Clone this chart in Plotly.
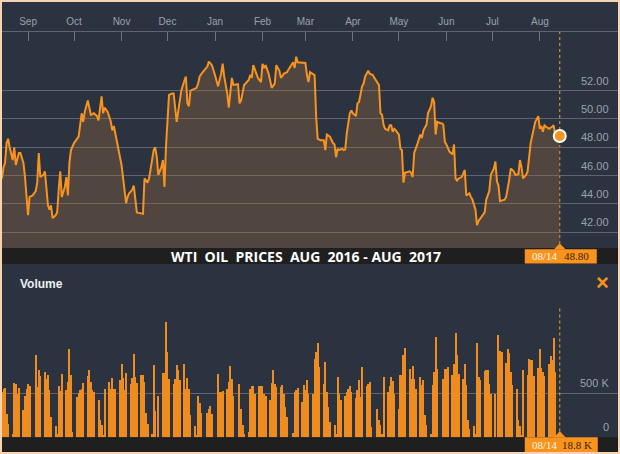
import plotly.graph_objects as go
import pandas as pd

# ---------------- data ----------------
BASE_DATE = "2016-09-01"   # price_day counts calendar days from this date
price_day = [
    -17, -16, -15, -14, -13, -12, -10, -9, -8, -6, -5, -4, -3, -2, 0, 1, 3, 5, 6, 7, 8, 10, 11, 13, 14, 15, 16,
    18, 19, 20, 21, 22, 24, 25, 26, 27, 28, 30, 32, 33, 35, 36, 37, 39, 41, 43, 45, 46, 48, 49, 50, 52, 54, 55,
    56, 58, 60, 61, 62, 64, 65, 66, 68, 69, 71, 73, 75, 76, 77, 78, 79, 80, 82, 83, 84, 85, 86,
    87, 88, 89, 90, 91, 92, 94, 95, 97, 99, 100, 102, 103, 104, 105, 106, 108, 110, 111, 112, 114, 117, 118,
    120, 122, 124, 126, 127, 128, 130, 131, 133, 134, 136, 137, 138, 139, 141, 143, 144, 145, 146, 147, 149,
    150, 152, 153, 154, 155, 157, 158, 159, 161, 162, 164, 165, 167, 169, 170, 172, 173, 174, 175, 176, 178,
    181, 182, 183, 184,
    186, 187, 188, 189, 191, 193, 194, 195, 197, 199, 200, 201, 202, 203, 205, 206, 207, 208, 210, 211, 212,
    214, 215, 216, 218, 219, 220, 222, 223, 225, 226, 228, 229, 230, 231, 232, 233, 235, 236, 237, 238, 239,
    240, 242, 243, 244, 245, 246, 249, 250, 251, 252, 253, 254, 256, 257, 258, 260, 261, 262, 263, 264, 265,
    266, 267, 269, 270, 271, 272, 273, 275, 276, 277, 278, 279, 280, 281,
    283, 285, 286, 288, 289, 290, 292, 293, 294, 296, 298, 299, 301, 302, 304, 305, 306, 307, 308, 311, 312,
    314, 315, 317, 318, 320, 321, 322, 323, 325, 326, 328, 329, 330, 331, 332, 333, 334, 335, 336, 337, 338,
    339, 340, 342, 343, 344, 345, 347,
]
price = [
    45.8, 46.6, 46.9, 48.3, 48.6, 48.0, 47.1, 48.0, 46.75, 47.6, 47.6, 47.2, 46.9, 45.9, 43.2, 44.5, 44.6, 44.9,
    45.5, 47.6, 45.9, 46.05, 46.3, 43.9, 43.6, 43.9, 43.0,
    43.2, 43.4, 45.0, 46.3, 44.5, 45.2, 45.9, 44.6, 46.9, 47.8, 48.3, 48.6, 48.75, 50.4, 49.8, 50.5, 51.3, 50.3,
    50.4, 50.2, 49.9, 51.6, 50.4, 50.8, 50.5, 49.8, 49.2,
    49.5, 48.5, 47.3, 46.75, 45.7, 44.05, 44.5, 44.75, 45.0, 45.3, 43.4, 43.35, 43.3, 45.8, 45.6, 45.5, 45.8,
    46.6, 47.8, 48.0, 47.3, 46.05, 46.3,
    46.6, 47.1, 45.2, 48.0, 50.2, 51.7, 51.8, 51.8, 49.8, 51.3, 52.0, 52.7, 53.0, 51.1, 50.9, 52.0, 52.1, 52.2,
    52.5, 53.0, 53.3, 53.7, 54.05,
    53.8, 53.1, 52.3, 53.2, 53.9, 53.0, 51.8, 50.8, 52.9, 52.4, 52.4, 52.45, 51.1, 51.3, 52.4, 52.6, 52.75, 53.1,
    52.9, 53.8, 53.1,
    52.9, 52.6, 53.9, 53.6, 53.8, 53.2, 52.75, 52.2, 52.5, 53.8, 53.4, 52.9, 53.2, 53.3, 53.5, 53.8, 54.0, 53.6,
    54.4, 54.0, 54.0,
    53.95, 53.1, 52.6, 53.3,
    53.2, 53.1, 50.2, 48.6, 48.5, 48.5, 47.8, 48.9, 48.75, 48.3, 48.2, 47.3, 47.9, 47.8, 47.9, 47.8, 47.85, 49.0,
    50.4, 50.6, 50.4,
    50.2, 51.1, 51.2, 52.3, 52.5, 53.0, 53.4, 53.2, 53.1, 52.9, 52.6, 52.4, 50.4, 50.3, 49.6, 49.3, 49.2, 49.55,
    49.55, 49.1, 49.3,
    49.2, 48.9, 47.9, 47.8, 45.5, 46.2, 46.3, 46.2, 45.9, 47.6, 47.85, 48.2, 48.9, 48.65, 49.2, 49.6, 50.4, 50.7,
    50.9, 51.5, 51.2,
    48.9, 49.8, 49.7, 49.7, 49.6, 48.4, 48.2, 47.7, 47.6, 47.5, 48.2, 45.8, 45.65, 45.8,
    45.9, 46.4, 44.6, 44.75, 44.5, 44.3, 43.6, 42.5, 42.8, 43.1, 43.4, 44.3, 44.9, 46.05, 46.5, 47.0, 45.6, 45.3,
    44.2, 44.3, 44.5,
    45.7, 46.5, 46.3, 46.05, 46.1, 47.1, 46.6, 45.8, 46.05, 46.3, 48.3, 48.9, 49.3, 49.8, 50.05, 50.2, 49.3,
    49.5, 49.1, 49.55, 49.45,
    49.4, 49.3, 49.45, 49.55, 48.9, 48.85, 48.8,
]

# daily volume (thousands of contracts), one entry per weekday from VOL_START to VOL_END; None = holiday
VOL_START, VOL_END = "2016-08-15", "2017-08-14"
volume_k = [
    520, 557, 570, 273, 160,
    45, 625, 606, 500, 570,
    310, 470, 557, 606, 584,
    None, 936, 576, 765, 697,
    746, 670, 709, 538, 235,
    133, 45, 591, 530, 720,
    538, 633, 1012, 709, 60,
    462, 508, 538, 557, 621,
    697, 773, 633, 538, 520,
    424, 197, 140, 26, 557,
    633, 557, 682, 557, 557,
    652, 841, 682, 538, 735,
    614, 682, 948, 690, 621,
    709, 709, 633, 280, 160,
    38, 830, 300, None, 470,
    735, 735, 1315, 974, 670,
    606, 670, 822, 765, 652,
    841, 557, 678, 557, 254,
    129, 25, 470, 394, 280,
    None, 280, 330, 356, 273,
    None, 728, 520, 520, 530,
    557, 633, 811, 670, 470,
    None, 606, 330, 140, 45,
    60, 557, 584, 584, 500,
    584, 584, 584, 500, 470,
    424, 621, 773, 606, 576,
    576, 595, 500, 349, 235,
    None, 53, 520, 538, 560,
    405, 595, 538, 652, 500,
    500, 900, 974, 1076, 803,
    606, 860, 520, 350, 178,
    140, 45, 690, 500, 432,
    470, 520, 557, 584, 520,
    455, 538, 660, 462, 803,
    584, 606, 633, 121, None,
    330, 205, 140, 45, 690,
    520, 584, 690, 644, 500,
    330, 709, 709, 944, 1023,
    784, 670, 811, 670, 550,
    690, 595, 660, 254, 140,
    45, 595, 746, 1152, 784,
    None, 670, 784, 784, 803,
    709, 834, 1190, 936, 728,
    670, 841, 595, 197, 100,
    129, 40, 1076, 690, 652,
    754, 765, 765, 614, 500,
    500, None, 1175, 982, 974,
    849, 1012, 963, 746, 600,
    557, 205, 129, 26, 765,
    709, 891, 887, 880, 700,
    796, 1012, 796, 746, 700,
    834, 929, 880, 1137, 746,
    18.8,
]

month_ticks = ["2016-09-01", "2016-10-01", "2016-11-01", "2016-12-01", "2017-01-01", "2017-02-01",
               "2017-03-01", "2017-04-01", "2017-05-01", "2017-06-01", "2017-07-01", "2017-08-01"]
month_labels = ["Sep", "Oct", "Nov", "Dec", "Jan", "Feb", "Mar", "Apr", "May", "Jun", "Jul", "Aug"]
price_ticks = [42, 44, 46, 48, 50, 52]
price_tick_labels = ["42.00", "44.00", "46.00", "48.00", "50.00", "52.00"]
vol_ticks = [0, 500000]
vol_tick_labels = ["0", "500 K"]
title_text = "WTI  OIL  PRICES  AUG  2016 - AUG  2017"
last_date_label = "08/14"
last_price_label = "48.80"
last_vol_label = "18.8 K"

# ---------------- styling ----------------
W, H = 620, 454
NAVY = "#2b3340"
ORANGE = "#f7931e"
BAR = "#ee8c1f"
BLACK = "#1f1f1f"
GRID = "#5e6571"
GRAY = "#9ba1a9"
BORDER = "#f6d4b2"

def py(px):  # pixel-from-top -> paper y
    return 1 - px / H

price_dates = pd.Timestamp(BASE_DATE) + pd.to_timedelta(price_day, unit="D")
vol_dates = pd.bdate_range(VOL_START, VOL_END)
vol_vals = [None if v is None else v * 1000 for v in volume_k]
last_date = price_dates[-1]

fig = go.Figure()
fig.add_trace(go.Scatter(
    x=price_dates, y=price, mode="lines",
    line=dict(color=ORANGE, width=2),
    fill="tozeroy", fillcolor="rgba(150,105,60,0.36)",
    xaxis="x", yaxis="y", hoverinfo="skip",
))
fig.add_trace(go.Scatter(
    x=[last_date], y=[price[-1]], mode="markers",
    marker=dict(size=12, color=ORANGE, line=dict(color="white", width=2)),
    xaxis="x", yaxis="y", hoverinfo="skip",
))
fig.add_trace(go.Bar(
    x=vol_dates, y=vol_vals, width=86400000 * 0.68,
    marker=dict(color=BAR, line=dict(width=0)),
    xaxis="x2", yaxis="y2", hoverinfo="skip",
))

xdom = [2 / W, 618 / W]
xrange = ["2016-08-15", "2017-09-21"]

fig.update_layout(
    width=W, height=H,
    margin=dict(l=0, r=0, t=0, b=0),
    paper_bgcolor=NAVY, plot_bgcolor="rgba(0,0,0,0)",
    showlegend=False, bargap=0,
    font=dict(family="Liberation Sans, Arial, sans-serif", color=GRAY),
    xaxis=dict(
        domain=xdom, range=xrange, type="date", side="top", anchor="y",
        tickvals=month_ticks, ticktext=month_labels,
        ticks="inside", ticklen=9, tickwidth=1, tickcolor="#717782",
        tickfont=dict(size=10, color=GRAY), ticklabelstandoff=2,
        showline=True, linecolor=GRID, linewidth=1,
        showgrid=False, zeroline=False, fixedrange=True,
    ),
    yaxis=dict(
        domain=[py(248), py(32)], range=[40.89, 56.14], side="right", anchor="x",
        tickvals=price_ticks, showticklabels=False, ticks="",
        showgrid=True, gridcolor=GRID, gridwidth=1, zeroline=False, showline=False,
    ),
    xaxis2=dict(
        domain=xdom, range=xrange, type="date", matches="x", anchor="y2",
        visible=False, showgrid=False,
    ),
    yaxis2=dict(
        domain=[py(437.3), py(305.7)], range=[0, 1500000], side="right", anchor="x2",
        tickvals=[500000, 1500000], showticklabels=False, ticks="",
        showgrid=True, gridcolor=GRID, gridwidth=1, zeroline=False, showline=False,
    ),
)

shapes = [
    # title bar and bottom bar
    dict(type="rect", xref="paper", yref="paper", x0=0, x1=1, y0=py(264), y1=py(248),
         fillcolor=BLACK, line=dict(width=0), layer="above"),
    dict(type="rect", xref="paper", yref="paper", x0=0, x1=1, y0=py(452.5), y1=py(437.3),
         fillcolor=BLACK, line=dict(width=0), layer="above"),
    # dotted current-date lines
    dict(type="line", xref="x", yref="paper", x0=last_date, x1=last_date, y0=py(244), y1=py(32),
         line=dict(color="#f5a623", width=1, dash="dot"), layer="below"),
    dict(type="line", xref="x", yref="paper", x0=last_date, x1=last_date, y0=py(431.5), y1=py(305.7),
         line=dict(color="#f5a623", width=1, dash="dot"), layer="above"),
    # tags
    dict(type="rect", xref="x", xsizemode="pixel", xanchor=last_date, x0=-35, x1=37,
         yref="paper", y0=py(263.5), y1=py(249.3), fillcolor=ORANGE, line=dict(width=0), layer="above"),
    dict(type="path", xref="x", xsizemode="pixel", xanchor=last_date, yref="paper",
         path=f"M -6,{py(249.6)} L 0,{py(243.5)} L 6,{py(249.6)} Z",
         fillcolor=ORANGE, line=dict(width=0), layer="above"),
    dict(type="rect", xref="x", xsizemode="pixel", xanchor=last_date, x0=-35, x1=38,
         yref="paper", y0=py(452.3), y1=py(437.3), fillcolor=ORANGE, line=dict(width=0), layer="above"),
    dict(type="path", xref="x", xsizemode="pixel", xanchor=last_date, yref="paper",
         path=f"M -6,{py(437.6)} L 0,{py(431.3)} L 6,{py(437.6)} Z",
         fillcolor=ORANGE, line=dict(width=0), layer="above"),
    # outer border
    dict(type="rect", xref="paper", yref="paper", x0=0, x1=1, y0=0, y1=1,
         fillcolor="rgba(0,0,0,0)", line=dict(color=BORDER, width=4), layer="above"),
]
fig.update_layout(shapes=shapes)

ann = []
for v, t in zip(price_ticks, price_tick_labels):
    ann.append(dict(x=611 / W, xref="paper", y=v, yref="y", text=t, showarrow=False,
                    xanchor="right", yanchor="middle", yshift=10,
                    font=dict(size=11, color=GRAY)))
for v, t in zip(vol_ticks, vol_tick_labels):
    ann.append(dict(x=611 / W, xref="paper", y=v, yref="y2", text=t, showarrow=False,
                    xanchor="right", yanchor="middle", yshift=10,
                    font=dict(size=11, color=GRAY)))
ann.append(dict(x=306 / W, xref="paper", y=py(256), yref="paper",
                text="<b>" + title_text.replace(" ", "\u00a0") + "</b>", showarrow=False,
                xanchor="center", yanchor="middle",
                font=dict(family="Open Sans, sans-serif", size=14, color="white")))
ann.append(dict(x=18 / W, xref="paper", y=py(284), yref="paper", text="<b>Volume</b>",
                showarrow=False, xanchor="left", yanchor="middle",
                font=dict(size=12, color="#eef0f2")))
ann.append(dict(x=602 / W, xref="paper", y=py(282), yref="paper", text="<b>×</b>",
                showarrow=False, xanchor="center", yanchor="middle",
                font=dict(size=22, color=ORANGE)))
serif = "Liberation Serif, Times New Roman, serif"
for ypx, right_txt in [(256.4, last_price_label), (444.8, last_vol_label)]:
    ann.append(dict(x=last_date, xref="x", y=py(ypx), yref="paper", text=last_date_label,
                    showarrow=False, xanchor="center", yanchor="middle", xshift=-14.5,
                    font=dict(family=serif, size=11, color="#fff4e8")))
    ann.append(dict(x=last_date, xref="x", y=py(ypx), yref="paper", text=right_txt,
                    showarrow=False, xanchor="center", yanchor="middle", xshift=17,
                    font=dict(family=serif, size=11, color="#3a2712")))
fig.update_layout(annotations=ann)

fig.write_html("out.html")
